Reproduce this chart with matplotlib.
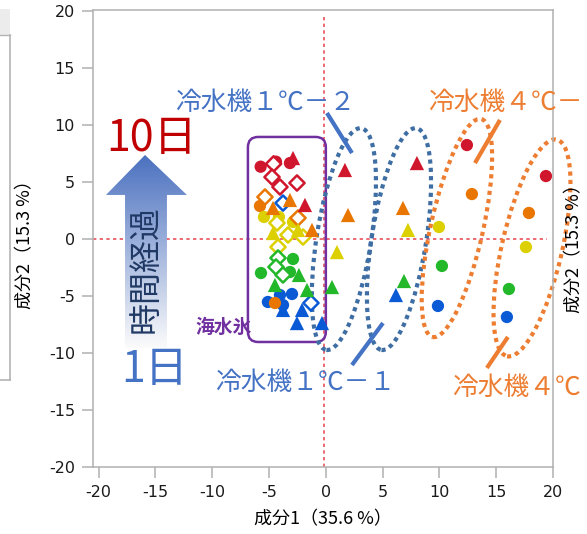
import matplotlib
matplotlib.use("Agg")
import matplotlib.pyplot as plt
import numpy as np
from matplotlib.patches import Ellipse, FancyBboxPatch, Polygon, Rectangle
from matplotlib.lines import Line2D

plt.rcParams["font.family"] = ["DejaVu Sans"]
JP = ["Noto Sans CJK JP", "DejaVu Sans"]

# ---- data -------------------------------------------------------------
# colour per sampling day (index 0 = 1日 ... 4 = 10日)
day_colors = ["#0a5ad6", "#22b82a", "#dcd000", "#e87600", "#d0162c"]

# 冷水機4℃ groups (circles), ordered day 0..4
c4a_x = [9.87, 10.22, 9.96, 12.86, 12.42]
c4a_y = [-5.87, -2.36, 1.06, 3.95, 8.25]
c4b_x = [15.94, 16.12, 17.62, 17.88, 19.38]
c4b_y = [-6.84, -4.38, -0.70, 2.29, 5.53]

# 冷水機1℃ groups (triangles), ordered day 0..4
c1a_x = [-0.34, 0.54, 0.98, 1.95, 1.68]
c1a_y = [-7.37, -4.21, -1.14, 2.11, 6.06]
c1b_x = [6.17, 6.88, 7.23, 6.79, 8.02]
c1b_y = [-4.91, -3.68, 0.80, 2.73, 6.67]

# 海水氷 samples
ice_circle_x = [-5.74, -4.39, -3.16, -5.80, -5.45, -4.13, -2.89, -5.71, -2.89, -3.16, -5.10, -4.04, -2.98, -3.77, -4.48]
ice_circle_y = [6.35, 6.79, 6.67, 2.90, 1.94, 1.94, 1.50, -2.98, -1.75, -2.89, -5.52, -4.91, -4.82, -5.79, -5.61]
ice_circle_day = [4, 4, 4, 3, 2, 2, 2, 1, 1, 1, 0, 0, 0, 0, 3]

ice_diamond_x = [-4.60, -4.74, -4.04, -2.54, -5.36, -2.45, -3.77, -4.30, -3.33, -2.01, -4.21, -4.21, -4.39, -3.77, -1.31]
ice_diamond_y = [6.60, 5.44, 4.57, 4.92, 3.69, 1.85, 3.16, 1.41, 0.36, 0.18, -0.70, -1.66, -2.45, -3.15, -5.61]
ice_diamond_day = [4, 4, 4, 4, 3, 3, 0, 2, 2, 2, 2, 1, 1, 1, 0]

ice_tri_x = [-2.89, -1.84, -4.65, -3.16, -1.22, -4.65, -2.45, -4.48, -2.37, -1.66, -3.77, -2.10, -2.54]
ice_tri_y = [7.11, 2.99, 2.73, 3.43, 0.80, 0.53, 0.80, -4.03, -3.15, -4.47, -6.22, -6.22, -7.37]
ice_tri_day = [4, 4, 3, 3, 3, 2, 2, 1, 1, 1, 0, 0, 0]

x_ticks = [-20, -15, -10, -5, 0, 5, 10, 15, 20]
y_ticks = [-20, -15, -10, -5, 0, 5, 10, 15, 20]
x_label = "成分1（35.6 %）"
y_label = "成分2（15.3 %）"

# ---- figure -----------------------------------------------------------
W, H = 587, 534
fig = plt.figure(figsize=(W / 100, H / 100), dpi=100)
fig.patch.set_facecolor("white")

# remnants of the neighbouring panel on the left edge
fig.patches.append(Rectangle((0, 1 - 35 / H), 10 / W, 26 / H, transform=fig.transFigure,
                             facecolor="#ececec", edgecolor="none"))
fig.lines.append(Line2D([10 / W, 10 / W], [1 - 35 / H, 1 - 380 / H], transform=fig.transFigure,
                        color="#b4b4b4", lw=1.2))
fig.lines.append(Line2D([0, 10 / W], [1 - 380 / H, 1 - 380 / H], transform=fig.transFigure,
                        color="#b4b4b4", lw=1.2))
fig.lines.append(Line2D([0, 10 / W], [1 - 35 / H, 1 - 35 / H], transform=fig.transFigure,
                        color="#b4b4b4", lw=1.0))

ax = fig.add_axes([93 / W, 67 / H, 460 / W, 457 / H])
ax.set_xlim(-20.5, 20)
ax.set_ylim(-20, 20.1)
for sp in ax.spines.values():
    sp.set_color("#b0b0b0")
    sp.set_linewidth(1.1)
ax.set_xticks(x_ticks)
ax.set_yticks(y_ticks)
ax.set_xticklabels([str(v) for v in x_ticks])
ax.set_yticklabels([str(v) for v in y_ticks])
ax.tick_params(direction="out", length=8, width=1.1, color="#b0b0b0",
               labelsize=11.5, labelcolor="#1a1a1a", pad=5)
zero_red = "#e8505b"
ax.xaxis.get_major_ticks()[x_ticks.index(0)].tick1line.set_color(zero_red)
ax.yaxis.get_major_ticks()[y_ticks.index(0)].tick1line.set_color(zero_red)

ax.set_xlabel(x_label, family=JP, fontsize=13, labelpad=7)
fig.text(25 / W, 1 - 240 / H, y_label, family=JP, fontsize=13, rotation=90,
         ha="center", va="center")
fig.text(574 / W, 1 - 244 / H, y_label, family=JP, fontsize=13, rotation=90,
         ha="center", va="center")

# origin guide lines
ax.vlines(-0.2, -20, 19.7, colors=zero_red, lw=1.2, linestyles=(0, (2, 2)), zorder=1)
ax.hlines(0, -20.5, 19.5, colors=zero_red, lw=1.2, linestyles=(0, (2, 2)), zorder=1)

# time arrow with fading gradient
arrow_pts = [(-15.92, 7.38), (-12.23, 3.87), (-13.99, 3.87), (-13.99, -9.56),
             (-17.68, -9.56), (-17.68, 3.87), (-19.36, 3.87)]
arrow = Polygon(arrow_pts, closed=True, facecolor="none", edgecolor="none")
ax.add_patch(arrow)
t = np.linspace(0, 1, 256)[:, None]
top = np.array([0x4a, 0x70, 0xbf]) / 255
grad = (1 - t)[..., None] * np.array([1, 1, 1]) * 0.985 + t[..., None] * top
grad = np.repeat(grad, 2, axis=1)
im = ax.imshow(grad, extent=[-19.5, -12.1, -9.56, 7.38], origin="lower",
               aspect="auto", zorder=3, interpolation="bilinear")
im.set_clip_path(arrow)
ax.text(-15.83, -2.6, "時間経過", rotation=90, ha="center", va="center",
        fontsize=23, color="#1f3864", family=JP, zorder=4)
ax.text(-15.3, 8.8, "10日", ha="center", va="center", fontsize=31,
        color="#c00000", family=JP, zorder=4)
ax.text(-15.1, -11.5, "1日", ha="center", va="center", fontsize=31,
        color="#4472c4", family=JP, zorder=4)

# sea-ice group box
box = FancyBboxPatch((-6.86, -9.03), 6.86, 17.99,
                     boxstyle="round,pad=0,rounding_size=0.9",
                     facecolor="none", edgecolor="#7030a0", lw=1.8, zorder=2)
ax.add_patch(box)
ax.text(-8.97, -7.8, "海水氷", ha="center", va="center", fontsize=13.5,
        fontweight="bold", color="#7030a0", family=JP, zorder=4)

# group outlines
blue_dot = "#3e6ea3"
orange = "#ed7d31"
blue_lbl = "#4472c4"
for cx, cy, w, h, ang, col in [(1.59, 0.0, 4.8, 19.7, -9, blue_dot),
                               (6.44, 0.0, 4.8, 19.7, -9, blue_dot),
                               (11.54, 0.97, 4.6, 19.6, -12.6, orange),
                               (18.15, -0.78, 5.3, 19.5, -13, orange)]:
    e = Ellipse((cx, cy), w, h, angle=ang, facecolor="none", edgecolor=col,
                lw=3.0, linestyle=(0, (1, 1)), zorder=2, clip_on=False)
    ax.add_patch(e)

# leader lines and group labels
for (x0, y0, x1, y1, col) in [(0.10, 11.06, 2.30, 7.55, blue_lbl),
                              (2.30, -11.05, 5.03, -7.37, blue_lbl),
                              (15.33, 10.45, 13.13, 6.67, orange),
                              (16.03, -8.59, 14.18, -11.31, orange)]:
    ax.plot([x0, x1], [y0, y1], color=col, lw=3, solid_capstyle="butt",
            zorder=3, clip_on=False)

lbl_kw = dict(family=JP, fontsize=18.5, va="center", ha="left", zorder=4, clip_on=False)
ax.text(-13.28, 11.94, "冷水機１℃－２", color=blue_lbl, **lbl_kw)
ax.text(-9.76, -12.63, "冷水機１℃－１", color=blue_lbl, **lbl_kw)
ax.text(8.99, 11.94, "冷水機４℃－", color=orange, **lbl_kw)
ax.text(11.10, -13.07, "冷水機４℃", color=orange, **lbl_kw)

# ---- markers ----------------------------------------------------------
day_idx = list(range(5))
circ_kw = dict(marker="o", s=78, linewidths=0, zorder=5, clip_on=False)
tri_kw = dict(marker="^", s=105, linewidths=0, zorder=6)
ax.scatter(c4a_x, c4a_y, c=[day_colors[i] for i in day_idx], **circ_kw)
ax.scatter(c4b_x, c4b_y, c=[day_colors[i] for i in day_idx], **circ_kw)
ax.scatter(c1a_x, c1a_y, c=[day_colors[i] for i in day_idx], **tri_kw)
ax.scatter(c1b_x, c1b_y, c=[day_colors[i] for i in day_idx], **tri_kw)

ax.scatter(ice_circle_x, ice_circle_y, c=[day_colors[i] for i in ice_circle_day],
           marker="o", s=78, linewidths=0, zorder=5)
ax.scatter(ice_diamond_x, ice_diamond_y, facecolors="white",
           edgecolors=[day_colors[i] for i in ice_diamond_day],
           marker="D", s=60, linewidths=1.8, zorder=5)
ax.scatter(ice_tri_x, ice_tri_y, c=[day_colors[i] for i in ice_tri_day], **tri_kw)

fig.savefig("out.png", dpi=100)
